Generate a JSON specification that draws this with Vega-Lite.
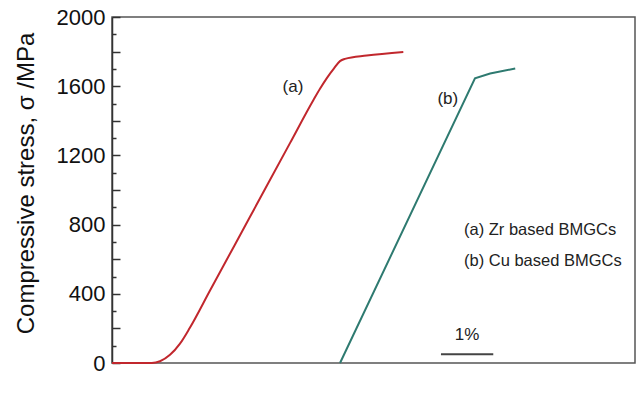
{
  "$schema": "https://vega.github.io/schema/vega-lite/v6.json",
  "width": 523,
  "height": 346,
  "autosize": {"type": "none"},
  "padding": {"left": 112, "top": 17, "right": 4, "bottom": 37},
  "background": "white",
  "config": {"view": {"stroke": "#555", "strokeWidth": 1.5}, "font": "Liberation Sans"},
  "resolve": {"axis": {"y": "independent"}},
  "datasets": {
    "curveA": [
      {"strain": 0, "stress": 0},
      {"strain": 0.76, "stress": 0},
      {"strain": 0.918, "stress": 10},
      {"strain": 1.109, "stress": 47},
      {"strain": 1.3, "stress": 112},
      {"strain": 1.486, "stress": 202},
      {"strain": 1.874, "stress": 419},
      {"strain": 2.639, "stress": 845},
      {"strain": 3.403, "stress": 1271},
      {"strain": 3.849, "stress": 1519},
      {"strain": 3.977, "stress": 1585},
      {"strain": 4.111, "stress": 1648},
      {"strain": 4.245, "stress": 1703},
      {"strain": 4.359, "stress": 1745},
      {"strain": 4.455, "stress": 1758},
      {"strain": 4.87, "stress": 1777},
      {"strain": 5.57, "stress": 1798}
    ],
    "curveB": [
      {"strain": 4.36, "stress": 0},
      {"strain": 6.94, "stress": 1645},
      {"strain": 7.23, "stress": 1673},
      {"strain": 7.71, "stress": 1702}
    ],
    "labels": [
      {"strain": 3.46, "stress": 1594, "text": "(a)"},
      {"strain": 6.42, "stress": 1528, "text": "(b)"},
      {"strain": 6.79, "stress": 160, "text": "1%"}
    ],
    "legend": [
      {"strain": 6.73, "stress": 771, "text": "(a) Zr based BMGCs"},
      {"strain": 6.73, "stress": 590, "text": "(b) Cu based BMGCs"}
    ],
    "scalebar": [
      {"x1": 6.29, "x2": 7.29, "stress": 50}
    ]
  },
  "layer": [
    {
      "data": {"name": "curveA"},
      "mark": {"type": "line", "strokeWidth": 2, "color": "#c1272d", "interpolate": "monotone"},
      "encoding": {
        "x": {
          "field": "strain", "type": "quantitative",
          "scale": {"domain": [0, 10], "nice": false, "zero": false},
          "axis": {
            "title": "Strain/%", "labels": false, "ticks": false, "grid": false,
            "domainColor": "#333", "domainWidth": 1.5,
            "titleFont": "Liberation Sans", "titleFontSize": 25, "titleFontWeight": "normal",
            "titleColor": "#111", "titleY": 26, "titleX": 268, "titleBaseline": "middle"
          }
        },
        "y": {
          "field": "stress", "type": "quantitative",
          "scale": {"domain": [0, 2000], "nice": false},
          "axis": {
            "orient": "left",
            "title": "Compressive stress, σ /MPa",
            "values": [0, 200, 400, 600, 800, 1000, 1200, 1400, 1600, 1800, 2000],
            "format": "d",
            "labelExpr": "datum.value % 400 === 0 ? datum.label : ''",
            "tickSize": -8,
            "tickColor": "#333", "tickWidth": 1.5,
            "labelPadding": 15, "labelFontSize": 22, "labelColor": "#111", "labelFont": "Liberation Sans",
            "grid": false, "domainColor": "#333", "domainWidth": 1.5,
            "titleFont": "Liberation Sans", "titleFontSize": 24, "titleFontWeight": "normal",
            "titleColor": "#111", "titleX": -86, "titleY": 166, "titleBaseline": "middle", "titleAngle": -90
          }
        }
      }
    },
    {
      "data": {"name": "curveB"},
      "mark": {"type": "line", "strokeWidth": 2, "color": "#2e7a70"},
      "encoding": {
        "x": {"field": "strain", "type": "quantitative", "axis": null},
        "y": {
          "field": "stress", "type": "quantitative",
          "axis": {
            "orient": "left", "title": null, "labels": false, "domain": false, "grid": false,
            "values": [100, 300, 500, 700, 900, 1100, 1300, 1500, 1700, 1900],
            "tickSize": -4, "tickColor": "#333", "tickWidth": 1.5
          }
        }
      }
    },
    {
      "data": {"name": "scalebar"},
      "mark": {"type": "rule", "color": "#444", "strokeWidth": 2},
      "encoding": {
        "x": {"field": "x1", "type": "quantitative", "axis": null},
        "x2": {"field": "x2"},
        "y": {"field": "stress", "type": "quantitative", "axis": null}
      }
    },
    {
      "data": {"name": "labels"},
      "mark": {"type": "text", "fontSize": 17, "font": "Liberation Sans", "color": "#222", "align": "center", "baseline": "middle"},
      "encoding": {
        "x": {"field": "strain", "type": "quantitative", "axis": null},
        "y": {"field": "stress", "type": "quantitative", "axis": null},
        "text": {"field": "text"}
      }
    },
    {
      "data": {"name": "legend"},
      "mark": {"type": "text", "fontSize": 16.5, "font": "Liberation Sans", "color": "#222", "align": "left", "baseline": "middle"},
      "encoding": {
        "x": {"field": "strain", "type": "quantitative", "axis": null},
        "y": {"field": "stress", "type": "quantitative", "axis": null},
        "text": {"field": "text"}
      }
    }
  ]
}
